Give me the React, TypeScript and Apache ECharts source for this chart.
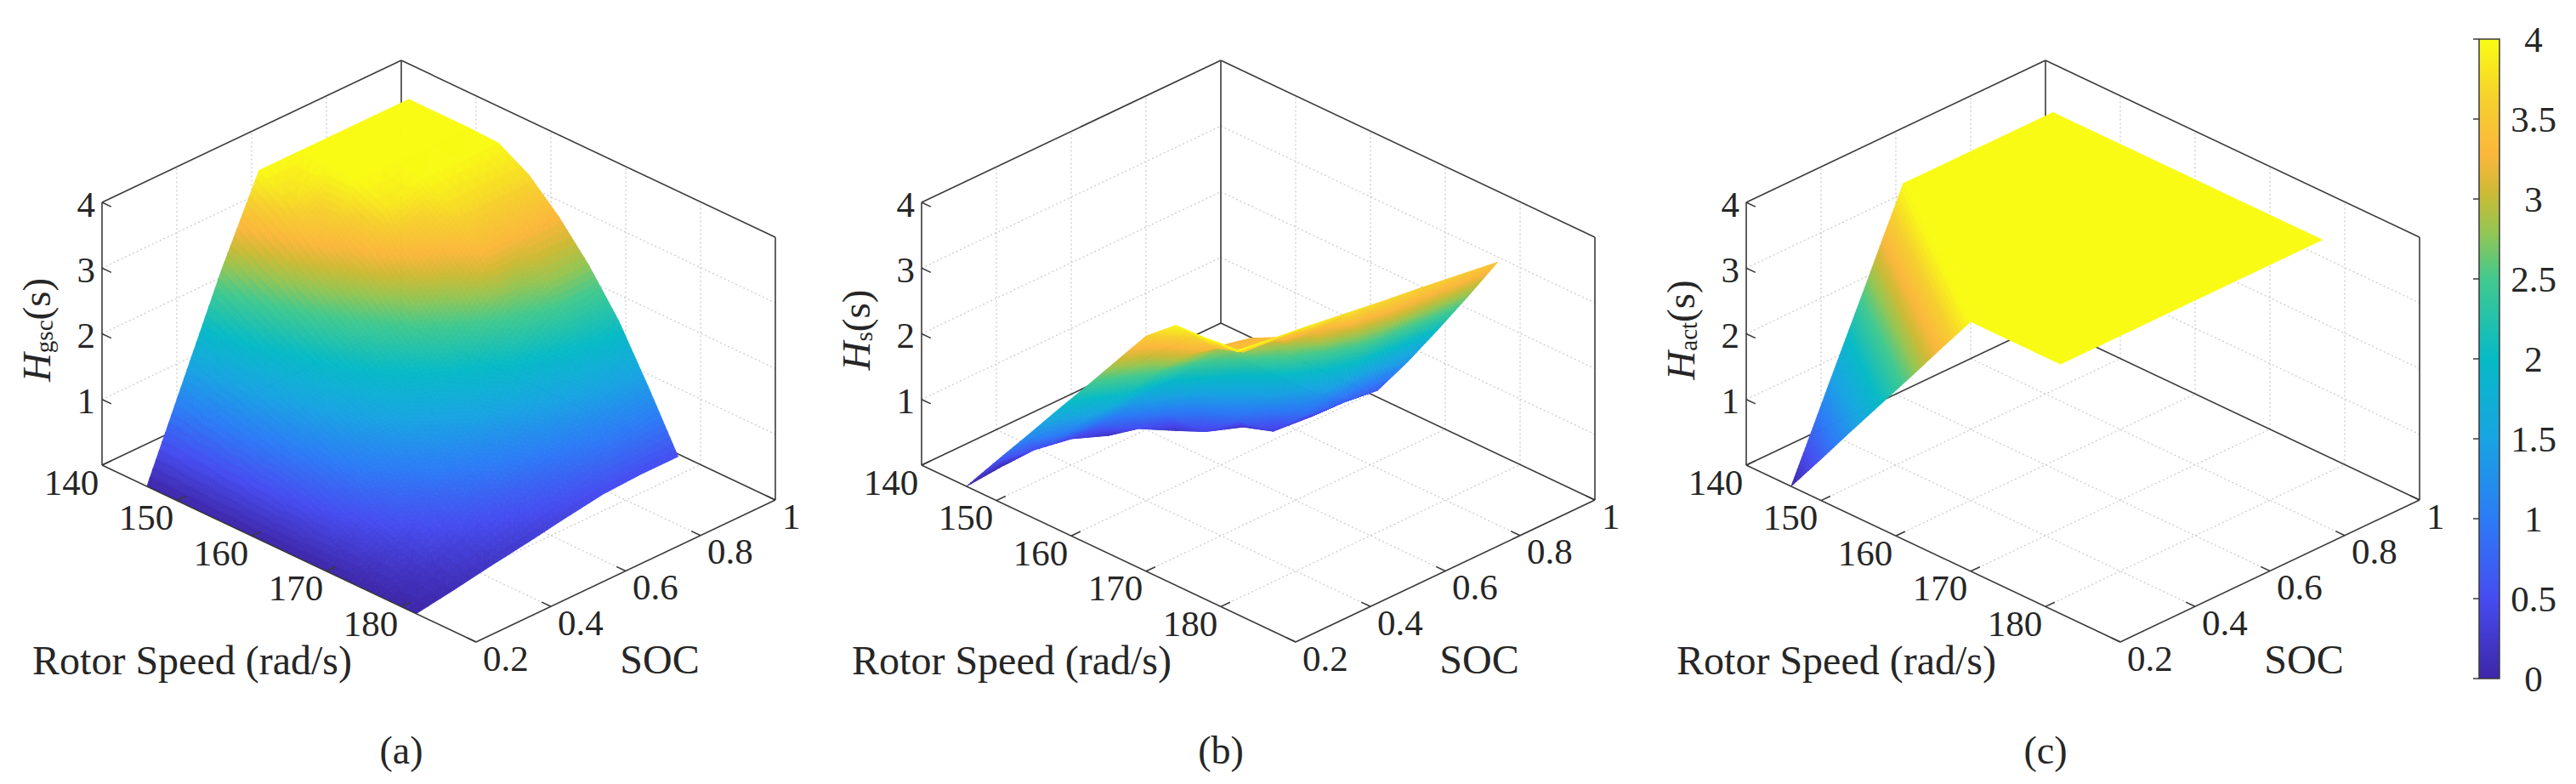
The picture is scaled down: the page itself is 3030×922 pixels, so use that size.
import React, { useEffect, useRef } from 'react';
import * as echarts from 'echarts';

// sample points of the surfaces
const rotorSpeed = [146, 150, 154, 158, 162, 166, 170, 174, 178, 182];
const soc = [0.2, 0.3, 0.4, 0.5, 0.6, 0.7, 0.8, 0.9];
const socAct = [0.2, 0.25, 0.3, 0.35, 0.4, 0.45, 0.5, 0.6, 0.7, 0.8, 0.9];

// rows = rotor speed, columns = SOC
const hGsc = [
  [0, 1.38, 2.76, 4, 4, 4, 4, 4],
  [0, 1.23, 2.46, 3.69, 4, 4, 4, 4],
  [0, 1.09, 2.18, 3.27, 4, 4, 4, 4],
  [0, 0.95, 1.9, 2.85, 3.8, 3.98, 3.98, 3.98],
  [0, 0.81, 1.62, 2.43, 3.24, 3.72, 3.72, 3.72],
  [0, 0.66, 1.32, 1.98, 2.64, 3.28, 3.3, 3.3],
  [0, 0.49, 0.98, 1.47, 1.96, 2.45, 2.78, 2.78],
  [0, 0.33, 0.66, 0.99, 1.32, 1.65, 1.98, 2.15],
  [0, 0.2, 0.4, 0.6, 0.8, 1.0, 1.2, 1.35],
  [0, 0.09, 0.19, 0.28, 0.38, 0.47, 0.5, 0.5],
];

const hS = [
  [0, 0.05, 0.1, 0.12, 0.13, 0.14, 0.15, 0.15],
  [0.6, 0.5, 0.4, 0.18, 0.14, 0.14, 0.15, 0.15],
  [1.19, 0.95, 0.85, 0.5, 0.2, 0.15, 0.15, 0.15],
  [1.79, 1.45, 1.35, 0.95, 0.4, 0.2, 0.17, 0.17],
  [2.38, 1.98, 1.85, 1.42, 0.8, 0.35, 0.3, 0.28],
  [2.98, 2.55, 2.35, 1.9, 1.3, 0.8, 0.72, 0.65],
  [3.58, 3.0, 2.85, 2.38, 1.85, 1.45, 1.38, 1.3],
  [3.96, 3.35, 3.22, 2.85, 2.45, 2.15, 2.08, 2.0],
  [3.98, 3.5, 3.45, 3.3, 3.05, 2.88, 2.8, 2.72],
  [4.0, 3.92, 3.85, 3.77, 3.69, 3.62, 3.54, 3.46],
];

// rows = rotor speed, columns = socAct
const hAct = [
  [0, 0.63, 1.27, 1.9, 2.53, 3.17, 3.8, 3.8, 3.8, 3.8, 3.8],
  [0.63, 1.27, 1.9, 2.53, 3.17, 3.8, 3.8, 3.8, 3.8, 3.8, 3.8],
  [1.27, 1.9, 2.53, 3.17, 3.8, 3.8, 3.8, 3.8, 3.8, 3.8, 3.8],
  [1.9, 2.53, 3.17, 3.8, 3.8, 3.8, 3.8, 3.8, 3.8, 3.8, 3.8],
  [2.53, 3.17, 3.8, 3.8, 3.8, 3.8, 3.8, 3.8, 3.8, 3.8, 3.8],
  [3.17, 3.8, 3.8, 3.8, 3.8, 3.8, 3.8, 3.8, 3.8, 3.8, 3.8],
  [3.8, 3.8, 3.8, 3.8, 3.8, 3.8, 3.8, 3.8, 3.8, 3.8, 3.8],
  [3.8, 3.8, 3.8, 3.8, 3.8, 3.8, 3.8, 3.8, 3.8, 3.8, 3.8],
  [3.8, 3.8, 3.8, 3.8, 3.8, 3.8, 3.8, 3.8, 3.8, 3.8, 3.8],
  [3.8, 3.8, 3.8, 3.8, 3.8, 3.8, 3.8, 3.8, 3.8, 3.8, 3.8],
];

// axes
const rotorRange = [140, 190];
const socRange = [0.2, 1];
const hRange = [0, 4];
const rotorTicks = [140, 150, 160, 170, 180];
const socTicks = [0.2, 0.4, 0.6, 0.8, 1];
const hTicks = [1, 2, 3, 4];
const colorbarRange = [0, 4];

const panels = [
  { label: '(a)', sub: 'gsc', rotor: rotorSpeed, socs: soc, values: hGsc, cmax: 4 },
  { label: '(b)', sub: 's', rotor: rotorSpeed, socs: soc, values: hS, cmax: 4 },
  { label: '(c)', sub: 'act', rotor: rotorSpeed, socs: socAct, values: hAct, cmax: 3.8 },
];

// parula
const parulaStops: [number, number[]][] = [
  [0, [62, 38, 168]],
  [0.125, [70, 76, 240]],
  [0.25, [44, 124, 246]],
  [0.375, [24, 164, 226]],
  [0.5, [6, 186, 198]],
  [0.625, [66, 201, 142]],
  [0.7, [150, 197, 82]],
  [0.76, [205, 186, 52]],
  [0.82, [251, 183, 60]],
  [0.9, [246, 206, 46]],
  [1, [249, 251, 20]],
];

const parula = (t: number) => {
  const v = Math.max(0, Math.min(1, t));
  for (let i = 1; i < parulaStops.length; i++) {
    const [t1, c1] = parulaStops[i];
    if (v <= t1) {
      const [t0, c0] = parulaStops[i - 1];
      const f = (v - t0) / (t1 - t0);
      const c = c0.map((x, k) => Math.round(x + (c1[k] - x) * f));
      return `rgb(${c[0]},${c[1]},${c[2]})`;
    }
  }
  return 'rgb(249,251,20)';
};

const FONT = 'Liberation Serif';
const TEXT = '#262626';

// projected box, px
const UX = 440, UY = 208, VX = 352, VY = -167, WZ = -309;
const panelLeft = [120, 1084, 2054];
const originY = 547;

const proj = (w: number, s: number, h: number) => {
  const a = (w - rotorRange[0]) / (rotorRange[1] - rotorRange[0]);
  const b = (s - socRange[0]) / (socRange[1] - socRange[0]);
  const c = (h - hRange[0]) / (hRange[1] - hRange[0]);
  return [a * UX + b * VX, a * UY + b * VY + c * WZ];
};

// nearness to the viewer on the floor
const VIEW_K = 1.24;
const depth = (w: number, s: number) =>
  (w - rotorRange[0]) / (rotorRange[1] - rotorRange[0]) -
  VIEW_K * (s - socRange[0]) / (socRange[1] - socRange[0]);

const buildCells = (rot: number[], socs: number[], h: number[][]) => {
  const cells: number[][] = [];
  for (let i = 0; i < rot.length - 1; i++) {
    for (let j = 0; j < socs.length - 1; j++) {
      cells.push([
        rot[i], socs[j], rot[i + 1], socs[j + 1],
        h[i][j], h[i + 1][j], h[i][j + 1], h[i + 1][j + 1],
      ]);
    }
  }
  cells.sort(
    (a, b) => depth((a[0] + a[2]) / 2, (a[1] + a[3]) / 2) - depth((b[0] + b[2]) / 2, (b[1] + b[3]) / 2)
  );
  return cells;
};

const seg = (p: number[], q: number[], style: any) => ({
  type: 'line',
  shape: { x1: p[0], y1: p[1], x2: q[0], y2: q[1] },
  style,
});

const label = (text: string, x: number, y: number, align: string, size = 43) => ({
  type: 'text',
  x,
  y,
  style: {
    text,
    fill: TEXT,
    font: `${size}px ${FONT}`,
    fontSize: size,
    fontFamily: FONT,
    align,
    verticalAlign: 'middle',
    textAlign: align,
    textVerticalAlign: 'middle',
  },
});

const boxStyle = { stroke: '#3a3a3a', lineWidth: 1.6 };
const gridStyle = { stroke: '#cccccc', lineWidth: 1.3, lineDash: [2, 3] };

const renderBack = (_params: any, api: any) => {
  const c = (w: number, s: number, h: number) => api.coord(proj(w, s, h));
  const [w0, w1] = rotorRange;
  const [s0, s1] = socRange;
  const [z0, z1] = hRange;
  const ch: any[] = [];
  rotorTicks.filter((w) => w > w0 && w < w1).forEach((w) => {
    ch.push(seg(c(w, s0, z0), c(w, s1, z0), gridStyle));
    ch.push(seg(c(w, s1, z0), c(w, s1, z1), gridStyle));
  });
  socTicks.filter((s) => s > s0 && s < s1).forEach((s) => {
    ch.push(seg(c(w0, s, z0), c(w1, s, z0), gridStyle));
    ch.push(seg(c(w0, s, z0), c(w0, s, z1), gridStyle));
  });
  hTicks.filter((h) => h < z1).forEach((h) => {
    ch.push(seg(c(w0, s0, h), c(w0, s1, h), gridStyle));
    ch.push(seg(c(w0, s1, h), c(w1, s1, h), gridStyle));
  });
  ch.push(seg(c(w0, s0, z0), c(w0, s1, z0), boxStyle));
  ch.push(seg(c(w0, s1, z0), c(w1, s1, z0), boxStyle));
  ch.push(seg(c(w0, s1, z0), c(w0, s1, z1), boxStyle));
  ch.push(seg(c(w0, s0, z0), c(w0, s0, z1), boxStyle));
  ch.push(seg(c(w1, s1, z0), c(w1, s1, z1), boxStyle));
  ch.push(seg(c(w0, s0, z1), c(w0, s1, z1), boxStyle));
  ch.push(seg(c(w0, s1, z1), c(w1, s1, z1), boxStyle));
  return { type: 'group', children: ch };
};

// each cell = two triangles split along its anti-diagonal, shaded finely
const renderSurface = (cmax: number) => (params: any, api: any) => {
  const w0 = api.value(0), s0 = api.value(1), w1 = api.value(2), s1 = api.value(3);
  const h00 = api.value(4), h10 = api.value(5), h01 = api.value(6), h11 = api.value(7);
  const range = Math.max(h00, h10, h01, h11) - Math.min(h00, h10, h01, h11);
  const n = Math.max(1, Math.min(12, Math.ceil(range / 0.08)));
  const hv = (u: number, v: number) =>
    u + v <= 1
      ? h00 + (h10 - h00) * u + (h01 - h00) * v
      : h11 + (h10 - h11) * (1 - v) + (h01 - h11) * (1 - u);
  const pts: number[][][] = [];
  const hs: number[][] = [];
  for (let p = 0; p <= n; p++) {
    pts.push([]);
    hs.push([]);
    for (let q = 0; q <= n; q++) {
      const u = p / n, v = q / n;
      const h = hv(u, v);
      hs[p].push(h);
      pts[p].push(api.coord(proj(w0 + u * (w1 - w0), s0 + v * (s1 - s0), h)));
    }
  }
  const dw = (w1 - w0) / (rotorRange[1] - rotorRange[0]);
  const ds = (s1 - s0) / (socRange[1] - socRange[0]);
  const tris: any[] = [];
  const addTri = (a: number[], b: number[], c: number[]) => {
    const u = (a[0] + b[0] + c[0]) / (3 * n);
    const v = (a[1] + b[1] + c[1]) / (3 * n);
    const h = (hs[a[0]][a[1]] + hs[b[0]][b[1]] + hs[c[0]][c[1]]) / 3;
    tris.push({
      d: u * dw - VIEW_K * v * ds,
      pts: [pts[a[0]][a[1]], pts[b[0]][b[1]], pts[c[0]][c[1]]],
      col: parula(h / cmax),
    });
  };
  for (let p = 0; p < n; p++) {
    for (let q = 0; q < n; q++) {
      addTri([p, q], [p + 1, q], [p, q + 1]);
      addTri([p + 1, q], [p + 1, q + 1], [p, q + 1]);
    }
  }
  tris.sort((a, b) => a.d - b.d);
  return {
    type: 'group',
    children: tris.map((t, k) => ({
      type: 'polygon',
      z2: params.dataIndex * 512 + k,
      shape: { points: t.pts },
      style: { fill: t.col, stroke: t.col, lineWidth: 0.8 },
    })),
  };
};

const renderFront = (_params: any, api: any) => {
  const c = (w: number, s: number, h: number) => api.coord(proj(w, s, h));
  const [w0, w1] = rotorRange;
  const [s0, s1] = socRange;
  const L = c(w0, s0, 0), F = c(w1, s0, 0), B = c(w0, s1, 0);
  const norm = (a: number[], b: number[]) => {
    const dx = b[0] - a[0], dy = b[1] - a[1];
    const len = Math.hypot(dx, dy);
    return [dx / len, dy / len];
  };
  const u = norm(L, F);
  const v = norm(L, B);
  const tl = 12;
  const ch: any[] = [];
  ch.push(seg(L, F, boxStyle));
  ch.push(seg(F, c(w1, s1, 0), boxStyle));
  rotorTicks.forEach((w) => {
    const p = c(w, s0, 0);
    ch.push(seg(p, [p[0] + v[0] * tl, p[1] + v[1] * tl], boxStyle));
    ch.push(label(String(w), p[0] - 36, p[1] + 20, 'center'));
  });
  socTicks.forEach((s) => {
    const p = c(w1, s, 0);
    ch.push(seg(p, [p[0] - u[0] * tl, p[1] - u[1] * tl], boxStyle));
    ch.push(label(String(s), p[0] + 8, p[1] + 19, 'left'));
  });
  hTicks.forEach((h) => {
    const p = c(w0, s0, h);
    ch.push(seg(p, [p[0] + u[0] * tl, p[1] + u[1] * tl], boxStyle));
    ch.push(label(String(h), p[0] - 8, p[1] + 2, 'right'));
  });
  return { type: 'group', children: ch };
};

const renderColorbar = (_params: any, api: any) => {
  const tl = api.coord([0, api.value(1)]);
  const br = api.coord([1, api.value(0)]);
  return {
    type: 'rect',
    shape: { x: tl[0], y: tl[1], width: br[0] - tl[0], height: br[1] - tl[1] },
    style: {
      fill: new echarts.graphic.LinearGradient(
        0, 1, 0, 0,
        parulaStops.map(([t, col]) => ({ offset: t, color: `rgb(${col[0]},${col[1]},${col[2]})` }))
      ),
      stroke: '#3a3a3a',
      lineWidth: 1.5,
    },
  };
};

const plainText = (text: string, x: number, y: number, size = 46) => ({
  type: 'text',
  x,
  y,
  style: {
    text,
    fill: TEXT,
    font: `${size}px ${FONT}`,
    fontSize: size,
    fontFamily: FONT,
    align: 'center',
    verticalAlign: 'middle',
    textAlign: 'center',
    textVerticalAlign: 'middle',
  },
});

const buildOption = () => {
  const grids: any[] = panelLeft.map((x) => ({ left: x, top: originY + VY + WZ, width: UX + VX, height: UY - VY - WZ }));
  grids.push({ left: 2916, top: 46, width: 24, height: 752 });

  const xAxes: any[] = panelLeft.map((_, i) => ({ type: 'value', gridIndex: i, min: 0, max: UX + VX, show: false }));
  xAxes.push({ type: 'value', gridIndex: 3, min: 0, max: 1, show: false });

  const yAxes: any[] = panelLeft.map((_, i) => ({
    type: 'value', gridIndex: i, min: VY + WZ, max: UY, inverse: true, show: false,
  }));
  yAxes.push({
    type: 'value',
    gridIndex: 3,
    min: colorbarRange[0],
    max: colorbarRange[1],
    interval: 0.5,
    position: 'right',
    z: 10,
    axisLine: { show: false },
    axisTick: { show: true, inside: true, length: 7, lineStyle: { color: '#3a3a3a', width: 1.5 } },
    axisLabel: {
      margin: 40,
      align: 'center',
      fontSize: 43,
      fontFamily: FONT,
      color: TEXT,
      formatter: (val: number) => String(val),
    },
    splitLine: { show: false },
  });

  const series: any[] = [];
  panels.forEach((pn, i) => {
    series.push({
      type: 'custom', xAxisIndex: i, yAxisIndex: i, z: 1, silent: true,
      data: [[0]], renderItem: renderBack,
    });
    series.push({
      type: 'custom', xAxisIndex: i, yAxisIndex: i, z: 2, silent: true,
      data: buildCells(pn.rotor, pn.socs, pn.values), renderItem: renderSurface(pn.cmax),
    });
    series.push({
      type: 'custom', xAxisIndex: i, yAxisIndex: i, z: 3, silent: true,
      data: [[0]], renderItem: renderFront,
    });
  });
  series.push({
    type: 'custom', xAxisIndex: 3, yAxisIndex: 3, z: 1, silent: true,
    data: [[colorbarRange[0], colorbarRange[1]]], renderItem: renderColorbar,
  });

  const graphic: any[] = [];
  panels.forEach((pn, i) => {
    const x = panelLeft[i];
    graphic.push(plainText('Rotor Speed (rad/s)', x + 106, 776, 48));
    graphic.push(plainText('SOC', x + 656, 775, 48));
    graphic.push(plainText(pn.label, x + 352, 882, 46));
    graphic.push({
      type: 'text', x: x - 77, y: 388, rotation: Math.PI / 2,
      style: {
        text: `{i|H}{b|${pn.sub}}{n|(s)}`,
        fill: TEXT,
        align: 'center',
        verticalAlign: 'middle',
        textAlign: 'center',
        textVerticalAlign: 'middle',
        rich: {
          i: { fontSize: 47, fontFamily: FONT, fontStyle: 'italic', fill: TEXT },
          b: { fontSize: 29, fontFamily: FONT, fill: TEXT, verticalAlign: 'bottom' },
          n: { fontSize: 47, fontFamily: FONT, fill: TEXT },
        },
      },
    });
  });

  return {
    animation: false,
    backgroundColor: '#ffffff',
    grid: grids,
    xAxis: xAxes,
    yAxis: yAxes,
    series,
    graphic,
  };
};

const App: React.FC = () => {
  const chartRef = useRef<HTMLDivElement>(null);

  useEffect(() => {
    if (!chartRef.current) return;
    const chart = echarts.init(chartRef.current, null, { renderer: 'svg' });
    chart.setOption(buildOption());
    return () => {
      chart.dispose();
    };
  }, []);

  return (
    <div
      ref={chartRef}
      style={{ position: 'absolute', left: 0, top: 0, width: 3030, height: 922, background: '#fff' }}
    />
  );
};

export default App;
